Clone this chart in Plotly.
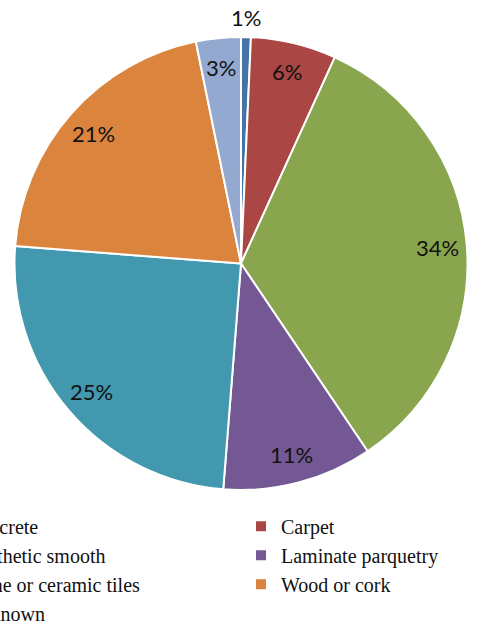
import math
import plotly.graph_objects as go

labels = ["Concrete", "Carpet", "Synthetic smooth", "Laminate parquetry",
          "Stone or ceramic tiles", "Wood or cork", "Unknown"]
values = [0.7, 6.1, 33.8, 10.7, 25.0, 20.6, 3.2]
colors = ["#4572A7", "#AA4643", "#89A54E", "#735894", "#4198AF", "#DB843D", "#93A9CF"]

W, H = 800, 621
ML, MR, MT, MB = 0, 0, 37, 131
pie_x0, pie_x1 = 14, 468          # pie horizontal extent in px
plot_h = H - MT - MB
R = min(pie_x1 - pie_x0, plot_h) / 2
cx_px = (pie_x0 + pie_x1) / 2

fig = go.Figure(go.Pie(
    labels=labels, values=values, sort=False, direction="clockwise", rotation=0,
    domain=dict(x=[pie_x0 / W, pie_x1 / W], y=[0, 1]),
    marker=dict(colors=colors, line=dict(color="white", width=2)),
    textinfo="none",
    hoverinfo="label+percent",
))

# percentage labels placed along each slice's mid-angle
total = sum(values)
cum = 0.0
annotations = []
for i, v in enumerate(values):
    mid = (cum + v / 2) / total * 2 * math.pi
    cum += v
    frac = v / total
    r = 1.085 * R if frac < 0.02 else 0.87 * R
    ax = (cx_px + r * math.sin(mid)) / W
    ay = 0.5 + r * math.cos(mid) / plot_h
    annotations.append(dict(
        x=ax, y=ay, xref="paper", yref="paper", showarrow=False,
        text=f"{round(frac * 100)}%",
        font=dict(family="Lato", size=22, color="#111111"),
        xanchor="center", yanchor="middle"))

fig.update_layout(
    width=W, height=H,
    margin=dict(l=ML, r=MR, t=MT, b=MB, autoexpand=False),
    paper_bgcolor="white", plot_bgcolor="white",
    showlegend=True,
    annotations=annotations,
    legend=dict(orientation="h", x=-74 / W, xanchor="left", y=-0.037, yanchor="top",
                entrywidth=270, entrywidthmode="pixels", traceorder="normal",
                font=dict(family="Liberation Serif", size=20, color="#111111"),
                itemwidth=30, tracegroupgap=0, bgcolor="rgba(0,0,0,0)"),
)
fig.write_html("out.html", post_script="document.body.style.margin='0';")
